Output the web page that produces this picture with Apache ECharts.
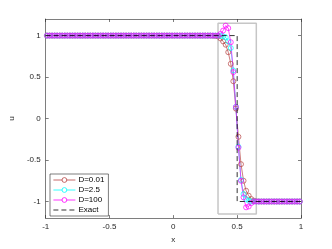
<!DOCTYPE html>
<html><head><meta charset="utf-8">
<script src="https://cdn.jsdelivr.net/npm/echarts@6/dist/echarts.min.js"></script>
<style>html,body{margin:0;padding:0;background:#fff}#c{width:332px;height:249px}</style>
</head><body><div id="c"></div>
<script>
// grid points (cell centres)
const xGrid = [];
for (let k = 0; k < 100; k++) xGrid.push(+(-0.99 + 0.02 * k).toFixed(2));
const tickValues = [-1, -0.5, 0, 0.5, 1];
const seriesNames = ['D=0.01', 'D=2.5', 'D=100', 'Exact'];
const uD001 = [
 1,1,1,1,1,1,1,1,1,1, 1,1,1,1,1,1,1,1,1,1, 1,1,1,1,1,1,1,1,1,1,
 1,1,1,1,1,1,1,1,1,1, 1,1,1,1,1,1,1,1,1,1, 1,1,1,1,1,1,1,1,1,1,
 1,1,1,1,1,0.998,
 0.995,0.99,0.965,0.93,0.89,0.80,0.66,0.45,0.12,-0.22,-0.55,-0.75,-0.87,-0.93,-0.97,-0.99,-0.998,
 -1,-1,-1,-1,-1,-1,-1,-1,-1,-1,-1,-1,-1,-1,-1,-1,-1
];
const uD25 = [
 1,1,1,1,1,1,1,1,1,1, 1,1,1,1,1,1,1,1,1,1, 1,1,1,1,1,1,1,1,1,1,
 1,1,1,1,1,1,1,1,1,1, 1,1,1,1,1,1,1,1,1,1, 1,1,1,1,1,1,1,1,1,1,
 1,1,1,1,1,1,
 1,1,1,0.99,0.98,0.93,0.85,0.58,0.14,-0.34,-0.74,-0.91,-0.97,-0.99,-1,-1,-1,
 -1,-1,-1,-1,-1,-1,-1,-1,-1,-1,-1,-1,-1,-1,-1,-1,-1
];
const uD100 = [
 1,1,1,1,1,1,1,1,1,1, 1,1,1,1,1,1,1,1,1,1, 1,1,1,1,1,1,1,1,1,1,
 1,1,1,1,1,1,1,1,1,1, 1,1,1,1,1,1,1,1,1,1, 1,1,1,1,1,1,1,1,1,1,
 1,1,1,1,1,1,
 1,1,1.02,1.06,1.12,1.09,0.92,0.56,0.14,-0.35,-0.75,-0.95,-1.07,-1.06,-1.02,-1,-1,
 -1,-1,-1,-1,-1,-1,-1,-1,-1,-1,-1,-1,-1,-1,-1,-1,-1
];
const exactX = [-1, 0.5, 0.5, 1];
const exactY = [1, 1, -1, -1];
const boxX = [0.35, 0.65];
const boxY = [-1.15, 1.15];

const pair = (xs, ys) => xs.map((x, i) => [x, ys[i]]);
const boxData = [[boxX[0], boxY[0]], [boxX[1], boxY[0]], [boxX[1], boxY[1]], [boxX[0], boxY[1]], [boxX[0], boxY[0]]];
const FONT = 'Liberation Sans, Arial, sans-serif';
const AX = '#262626';
const colors = ['#b84545', '#00ffff', '#ff00ff'];

function mk(name, ys, color) {
  return {
    name, type: 'line', data: pair(xGrid, ys), xAxisIndex: 0, yAxisIndex: 0,
    symbol: 'circle', symbolSize: 5, showSymbol: true,
    lineStyle: { color, width: 0.7 },
    itemStyle: { color: 'rgba(255,255,255,0)', borderColor: color, borderWidth: 0.7 },
    emphasis: { disabled: true }, animation: false, z: 3
  };
}
const axCommon = (pos, showLabel) => ({
  type: 'value', min: 0, max: 0, position: pos,
  axisLine: { show: true, onZero: false, lineStyle: { color: AX, width: 0.6 } },
  axisTick: { show: true, inside: true, length: 3, customValues: tickValues, lineStyle: { color: AX, width: 0.6 } },
  axisLabel: { show: showLabel, customValues: tickValues, color: AX, fontSize: 8, fontFamily: FONT, margin: 5 },
  splitLine: { show: false }
});
const xB = Object.assign(axCommon('bottom', true), { min: -1, max: 1, name: 'x', nameLocation: 'middle', nameGap: 17, nameTextStyle: { color: AX, fontSize: 8, fontFamily: FONT } });
const xT = Object.assign(axCommon('top', false), { min: -1, max: 1 });
const yL = Object.assign(axCommon('left', true), { min: -1.2, max: 1.2, name: 'u', nameLocation: 'middle', nameGap: 19, nameTextStyle: { color: AX, fontSize: 8, fontFamily: FONT } });
const yR = Object.assign(axCommon('right', false), { min: -1.2, max: 1.2 });

const legendData = seriesNames.slice(0, 3).map((n, i) => ({
  name: n,
  itemStyle: { color: '#fff', borderColor: colors[i], borderWidth: 0.8 },
  lineStyle: { color: colors[i], width: 0.8 }
}));
legendData.push({ name: seriesNames[3], itemStyle: { color: 'rgba(0,0,0,0)', borderColor: 'rgba(0,0,0,0)', borderWidth: 0 }, lineStyle: { color: '#000', width: 0.8, type: [5, 3] } });

const chart = echarts.init(document.getElementById('c'), null, { renderer: 'canvas' });
chart.setOption({
  animation: false,
  backgroundColor: '#fff',
  grid: { left: 43, right: 31, top: 19, bottom: 28, containLabel: false },
  xAxis: [xB, xT],
  yAxis: [yL, yR],
  legend: {
    data: legendData, orient: 'vertical', left: 50, top: 174,
    itemWidth: 22, itemHeight: 6, itemGap: 2, padding: [2, 4, 2, 3],
    backgroundColor: '#fff', borderColor: AX, borderWidth: 0.6,
    textStyle: { color: '#000', fontSize: 8, fontFamily: FONT, padding: [0, 0, 0, -2] }, selectedMode: false
  },
  series: [
    {
      name: 'box', type: 'line', data: boxData, symbol: 'none',
      lineStyle: { color: '#c6c6c6', width: 1.5 }, z: 2, silent: true
    },
    mk(seriesNames[0], uD001, colors[0]),
    mk(seriesNames[1], uD25, colors[1]),
    mk(seriesNames[2], uD100, colors[2]),
    {
      name: seriesNames[3], type: 'line', data: pair(exactX, exactY), symbol: 'none',
      itemStyle: { color: '#000' },
      lineStyle: { color: '#000', width: 0.8, type: [5, 3] }, z: 4
    }
  ]
});
</script></body></html>
